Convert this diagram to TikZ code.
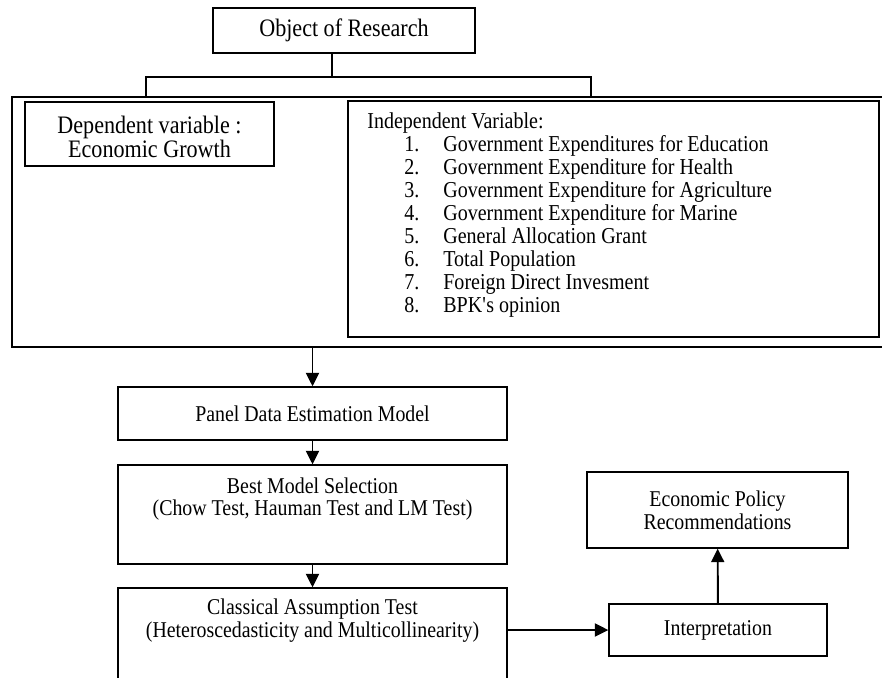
\documentclass[tikz,border=0pt]{standalone}
\usepackage{fontspec}
\setmainfont{Liberation Serif}[FakeStretch=0.88]
\usetikzlibrary{arrows.meta}

\tikzset{
  box/.style={draw, line width=0.8pt, inner sep=0pt, align=center,
    font=\fontsize{12.85}{13}\selectfont},
  frame/.style={draw, line width=1.2pt, inner sep=0pt},
  txt/.style={inner sep=0pt, align=center, font=\fontsize{12.85}{13}\selectfont},
  itemtxt/.style={inner sep=0pt, anchor=base west, font=\fontsize{12.95}{13}\selectfont},
  flow/.style={line width=1.1pt, -{Triangle[length=2.7mm,width=2.6mm]}},
  link/.style={line width=0.9pt},
}

\begin{document}
\begin{tikzpicture}[x=0.02cm, y=-0.02cm]
  \path[use as bounding box, clip] (0,0) rectangle (882,677);
  % object and the two groups of variables
  \node[box, minimum width=5.24cm, minimum height=0.9cm, font=\fontsize{14.3}{14}\selectfont] (obj) at (344,30.5) {Object of Research};
  \node[frame, minimum width=17.76cm, minimum height=5cm] (vars) at (456,222) {};
  \node[box, minimum width=4.98cm, minimum height=1.28cm, font=\fontsize{14.3}{14}\selectfont] (dep) at (149.5,134) {};
  \node[txt, font=\fontsize{14.3}{14}\selectfont] (deptxt) at (149.5,137) {Dependent variable :\\Economic Growth};
  \node[box, minimum width=10.62cm, minimum height=4.72cm] (indep) at (613.5,219) {};
  \node[itemtxt] (indeptitle) at (367,128.5) {Independent Variable:};
  \foreach \num/\what in {1/Government Expenditures for Education,
      2/Government Expenditure for Health, 3/Government Expenditure for Agriculture,
      4/Government Expenditure for Marine, 5/General Allocation Grant,
      6/Total Population, 7/Foreign Direct Invesment, 8/BPK\textquotesingle s opinion}{
    \node[itemtxt] (num\num) at (404,{151+23*(\num-1)}) {\num.};
    \node[itemtxt] (item\num) at (443,{151+23*(\num-1)}) {\what};
  }
  % tree lines
  \coordinate (split) at (332,77);
  \coordinate (lt) at (146,77);
  \coordinate (rt) at (591,77);
  \draw[link] (obj.south -| split) -- (split);
  \draw[link] (vars.north -| lt) -- (lt) -- (rt) -- (vars.north -| rt);
  % estimation steps
  \node[box, minimum width=7.78cm, minimum height=1.06cm] (panel) at (312.5,413.5) {Panel Data Estimation Model};
  \node[box, minimum width=7.78cm, minimum height=1.98cm] (best) at (312.5,514.5) {};
  \node[txt] (besttxt) at (312.5,499) {Best Model Selection\\(Chow Test, Hauman Test and LM Test)};
  \node[box, minimum width=7.78cm, minimum height=2.04cm] (cls) at (312.5,639) {};
  \node[txt] (clstxt) at (312.5,621) {Classical Assumption Test\\(Heteroscedasticity and Multicollinearity)};
  \node[box, minimum width=4.36cm, minimum height=1.04cm] (interp) at (718,630) {Interpretation};
  \node[box, minimum width=5.22cm, minimum height=1.52cm] (econ) at (717.5,510) {Economic Policy\\Recommendations};
  % arrows
  \draw[flow] (panel.north |- vars.south) -- (panel.north);
  \draw[flow] (panel) -- (best);
  \draw[flow] (best) -- (cls);
  \draw[flow] (cls.east |- interp.west) -- (interp.west);
  \draw[flow] (interp) -- (econ);
\end{tikzpicture}
\end{document}
